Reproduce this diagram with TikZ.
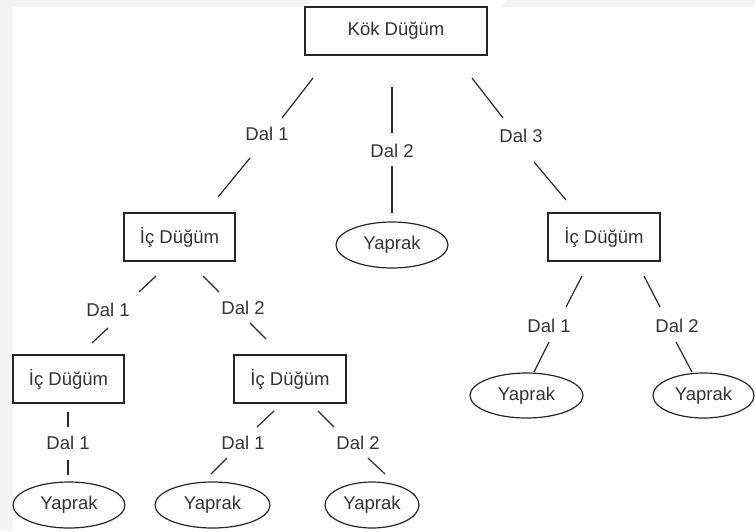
\documentclass[tikz,border=0pt]{standalone}
\usepackage{fontspec}
\setmainfont{Liberation Sans}
\usetikzlibrary{shapes.geometric}
\definecolor{ink}{HTML}{333333}
\definecolor{edgeink}{HTML}{2A2A2A}
\definecolor{margin}{HTML}{F5F5F5}
\begin{document}
\begin{tikzpicture}[x=1pt,y=-1pt,
  every node/.style={font=\fontsize{18.5}{22}\selectfont, text=ink},
  box/.style={draw=black!85, line width=1.5pt, minimum height=48pt, inner sep=0pt},
  leaf/.style={ellipse, draw=black!85, line width=1.2pt, minimum height=46pt, inner sep=0pt},
  lbl/.style={inner sep=0pt},
  edge/.style={draw=edgeink, line width=1.2pt}]
\useasboundingbox (0,0) rectangle (755,531);

% faint page margin along the left and top edges
\fill[margin] (0,0) rectangle (13,531);
\fill[margin] (13,0) -- (312,0) -- (305,7) -- (13,7) -- cycle;
\fill[margin] (507,0) -- (755,0) -- (755,7) -- (500,7) -- cycle;

% decision nodes
\node[box, minimum width=182pt] (root) at (396,31) {Kök Düğüm};
\node[box, minimum width=111pt] (ic1) at (179.5,237) {İç Düğüm};
\node[box, minimum width=112pt] (ic3) at (604,237) {İç Düğüm};
\node[box, minimum width=111pt] (ic2) at (68.5,379) {İç Düğüm};
\node[box, minimum width=112pt] (ic4) at (290,379) {İç Düğüm};

% leaves
\node[leaf, minimum width=112pt] (ymid) at (392,245) {Yaprak};
\node[leaf, minimum width=112pt] (yb1) at (69,505) {Yaprak};
\node[leaf, minimum width=115pt] (yb2) at (212.5,505) {Yaprak};
\node[leaf, minimum width=94pt] (yb3) at (372,505) {Yaprak};
\node[leaf, minimum width=113pt, minimum height=45pt] (yr1) at (526.5,395.5) {Yaprak};
\node[leaf, minimum width=101pt, minimum height=45pt] (yr2) at (703.5,395.5) {Yaprak};

% branch labels
\node[lbl] (d1) at (267,134) {Dal 1};
\node[lbl] (d2) at (392,151) {Dal 2};
\node[lbl] (d3) at (521,136) {Dal 3};
\node[lbl] (d4) at (108,310) {Dal 1};
\node[lbl] (d5) at (243,308) {Dal 2};
\node[lbl] (d6) at (68,443) {Dal 1};
\node[lbl] (d7) at (243,443) {Dal 1};
\node[lbl] (d8) at (358,443) {Dal 2};
\node[lbl] (d9) at (549,326) {Dal 1};
\node[lbl] (d10) at (677,326) {Dal 2};

% branch segments, broken around their labels
\coordinate (e1a) at (313,78);  \coordinate (e1b) at (282,118);
\coordinate (e1c) at (250,158); \coordinate (e1d) at (218,197);
\coordinate (e2a) at (392,87);  \coordinate (e2b) at (392,133);
\coordinate (e2c) at (392,166); \coordinate (e2d) at (392,213);
\coordinate (e3a) at (472,78);  \coordinate (e3b) at (503,118);
\coordinate (e3c) at (534,162); \coordinate (e3d) at (566,200);
\coordinate (e4a) at (156,276); \coordinate (e4b) at (139,292);
\coordinate (e4c) at (108,328); \coordinate (e4d) at (92,343);
\coordinate (e5a) at (203,276); \coordinate (e5b) at (219,292);
\coordinate (e5c) at (250,323); \coordinate (e5d) at (266,339);
\coordinate (e6a) at (68,412);  \coordinate (e6b) at (68,427);
\coordinate (e6c) at (68,460);  \coordinate (e6d) at (68,475);
\coordinate (e7a) at (274,411); \coordinate (e7b) at (257,427);
\coordinate (e7c) at (227,458); \coordinate (e7d) at (211,474);
\coordinate (e8a) at (318,411); \coordinate (e8b) at (334,427);
\coordinate (e8c) at (368,458); \coordinate (e8d) at (385,474);
\coordinate (e9a) at (582,276); \coordinate (e9b) at (566,307);
\coordinate (e9c) at (549,342); \coordinate (e9d) at (534,372);
\coordinate (e10a) at (644,276); \coordinate (e10b) at (660,307);
\coordinate (e10c) at (676,342); \coordinate (e10d) at (692,372);

\foreach \e in {e1,e2,e3,e4,e5,e6,e7,e8,e9,e10}
  \draw[edge] (\e a) -- (\e b) (\e c) -- (\e d);
\end{tikzpicture}
\end{document}
